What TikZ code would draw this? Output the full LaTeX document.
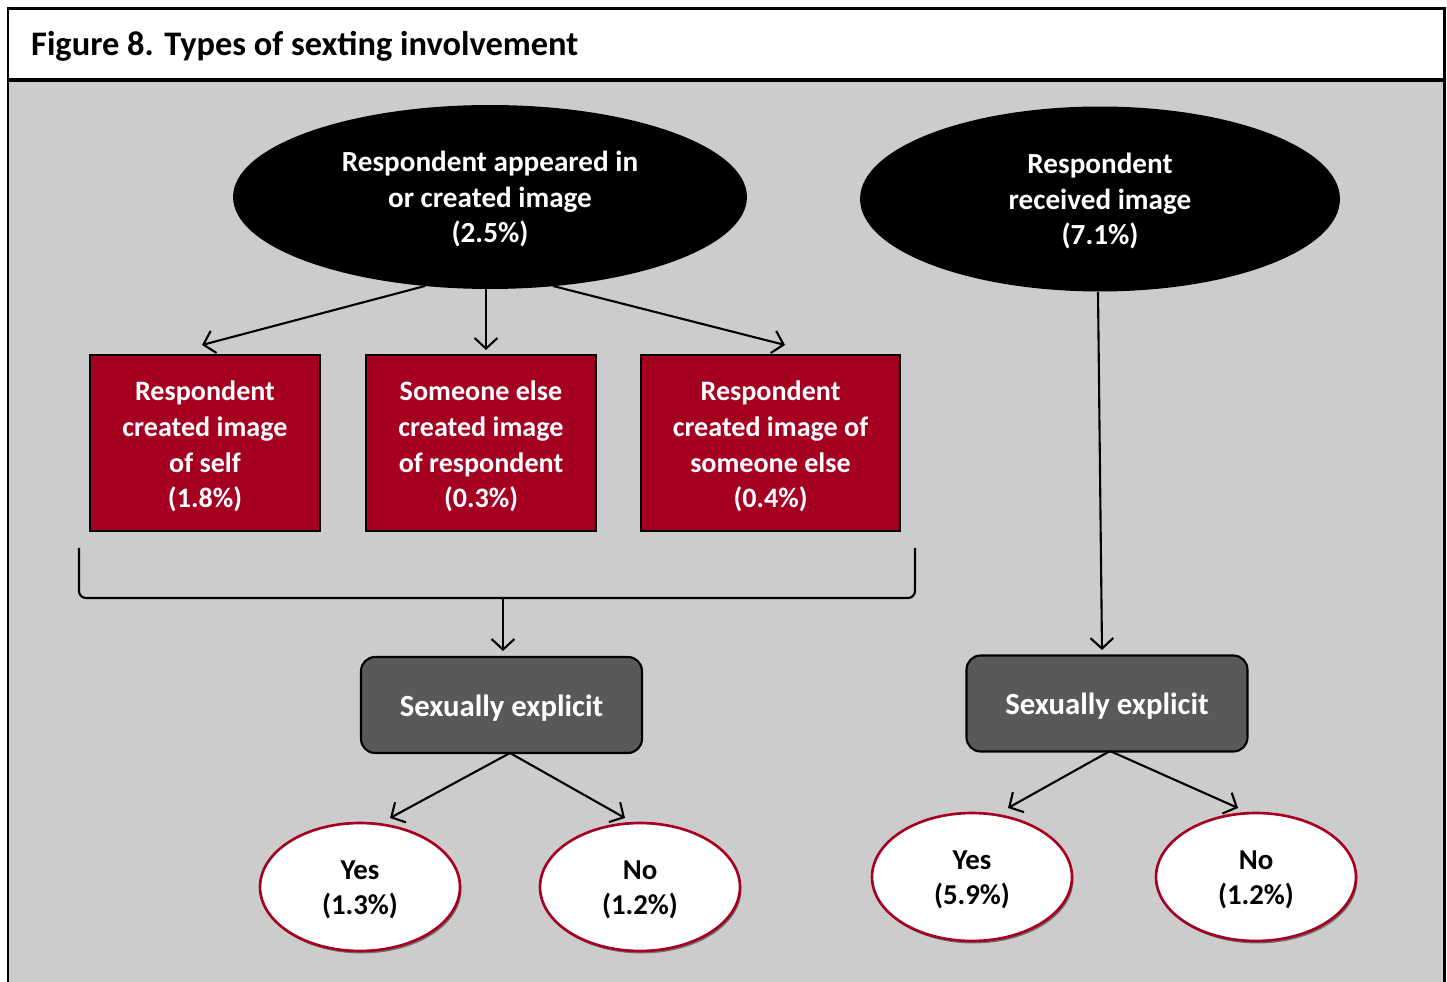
\documentclass[tikz,border=0pt]{standalone}
\usepackage{fontspec}
\setmainfont{Carlito}
\usetikzlibrary{arrows.meta,shapes.geometric,shadows}
\definecolor{bg}{HTML}{CCCCCC}
\definecolor{wine}{HTML}{A50021}
\definecolor{dgray}{HTML}{595959}
\newcommand\mylines[2]{\raisebox{0pt}[\dimexpr\height+#1*2\relax][\depth]{\begin{tabular}{@{}c@{}}#2\end{tabular}}}
\begin{document}
\begin{tikzpicture}[x=0.02cm,y=-0.02cm,
  txt/.style={font=\bfseries\fontsize{16}{20.4}\selectfont, align=center},
  bigell/.style={ellipse, fill=black, text=white, txt, font=\bfseries\fontsize{16.6}{20.4}\selectfont, inner sep=0pt},
  redbox/.style={rectangle, fill=wine, draw=black, line width=1.2pt, text=white, txt, inner sep=0pt, minimum height=3.52cm},
  graybox/.style={rectangle, rounded corners=0.28cm, fill=dgray, draw=black, line width=1.2pt, text=white, txt, font=\bfseries\fontsize{17.5}{20.4}\selectfont, inner sep=0pt, minimum width=5.62cm, minimum height=1.92cm},
  answer/.style={ellipse, fill=white, draw=wine, line width=1.5pt, text=black, txt, font=\bfseries\fontsize{16.4}{20}\selectfont, inner sep=0pt, minimum width=4cm, minimum height=2.56cm,
     drop shadow={shadow xshift=0.03cm, shadow yshift=-0.05cm, fill=black, opacity=0.45}},
  arr/.style={-{Straight Barb[length=6pt,width=13pt,line width=1.2pt]}, line width=1.2pt, black}
]
\useasboundingbox (0,0) rectangle (1447,982);
% frame
\fill[bg] (8,80) rectangle (1444,982);
\fill[white] (8,9) rectangle (1444,79);
\draw[line width=1.7pt] (8,985) -- (8,9) -- (1444,9) -- (1444,985);
\draw[line width=2.4pt] (8,80) -- (1444,80);
\node[anchor=west, font=\bfseries\fontsize{19.6}{22}\selectfont] (title) at (25,46) {Figure 8. Types of sexting involvement};

% top ellipses
\node[bigell, minimum width=10.28cm, minimum height=3.68cm] (e1) at (490,197) {\mylines{1.7pt}{Respondent appeared in\\or created image\\(2.5\%)}};
\node[bigell, minimum width=9.6cm, minimum height=3.7cm] (e2) at (1100,199) {\mylines{1.7pt}{Respondent\\received image\\(7.1\%)}};

% red boxes
\node[redbox, minimum width=4.6cm] (b1) at (205,443) {\mylines{2.3pt}{Respondent\\created image\\of self\\(1.8\%)}};
\node[redbox, minimum width=4.6cm] (b2) at (481,443) {\mylines{2.3pt}{Someone else\\created image\\of respondent\\(0.3\%)}};
\node[redbox, minimum width=5.18cm] (b3) at (770.5,443) {\mylines{2.3pt}{Respondent\\created image of\\someone else\\(0.4\%)}};

% arrows from e1
\coordinate (s1) at (425,286);
\coordinate (s3) at (553,286);
\coordinate (t1) at (202,345);
\coordinate (t2) at (486,350);
\coordinate (t3) at (785,345);
\coordinate (s2) at (486,289);
\draw[arr] (s1) -- (t1);
\draw[arr] (s2) -- (t2);
\draw[arr] (s3) -- (t3);

% bracket
\coordinate (bl) at (79,548);
\coordinate (br) at (915,548);
\coordinate (bm) at (503,598);
\draw[line width=1.2pt, rounded corners=4pt] (bl) -- (79,598) -- (915,598) -- (br);

% gray boxes
\node[graybox] (g1) at (501.5,705) {\mylines{2.3pt}{Sexually explicit}};
\node[graybox] (g2) at (1107,703.5) {\mylines{2.3pt}{Sexually explicit}};
\coordinate (tg1) at (503,651);
\coordinate (sg2) at (1098,292);
\coordinate (tg2) at (1102,650);
\draw[arr] (bm) -- (tg1);
\draw[arr] (sg2) -- (tg2);

% answers
\node[answer] (y1) at (360,887) {\mylines{1.7pt}{Yes\\(1.3\%)}};
\node[answer] (n1) at (640,887) {\mylines{1.7pt}{No\\(1.2\%)}};
\node[answer] (y2) at (972,877) {\mylines{1.7pt}{Yes\\(5.9\%)}};
\node[answer] (n2) at (1256,877) {\mylines{1.7pt}{No\\(1.2\%)}};

\coordinate (g1b) at (510,753);
\coordinate (g2b) at (1110,751);
\coordinate (ty1) at (390,818);
\coordinate (tn1) at (625,818);
\coordinate (ty2) at (1008,808);
\coordinate (tn2) at (1238,808);
\draw[arr] (g1b) -- (ty1);
\draw[arr] (g1b) -- (tn1);
\draw[arr] (g2b) -- (ty2);
\draw[arr] (g2b) -- (tn2);
\end{tikzpicture}
\end{document}
